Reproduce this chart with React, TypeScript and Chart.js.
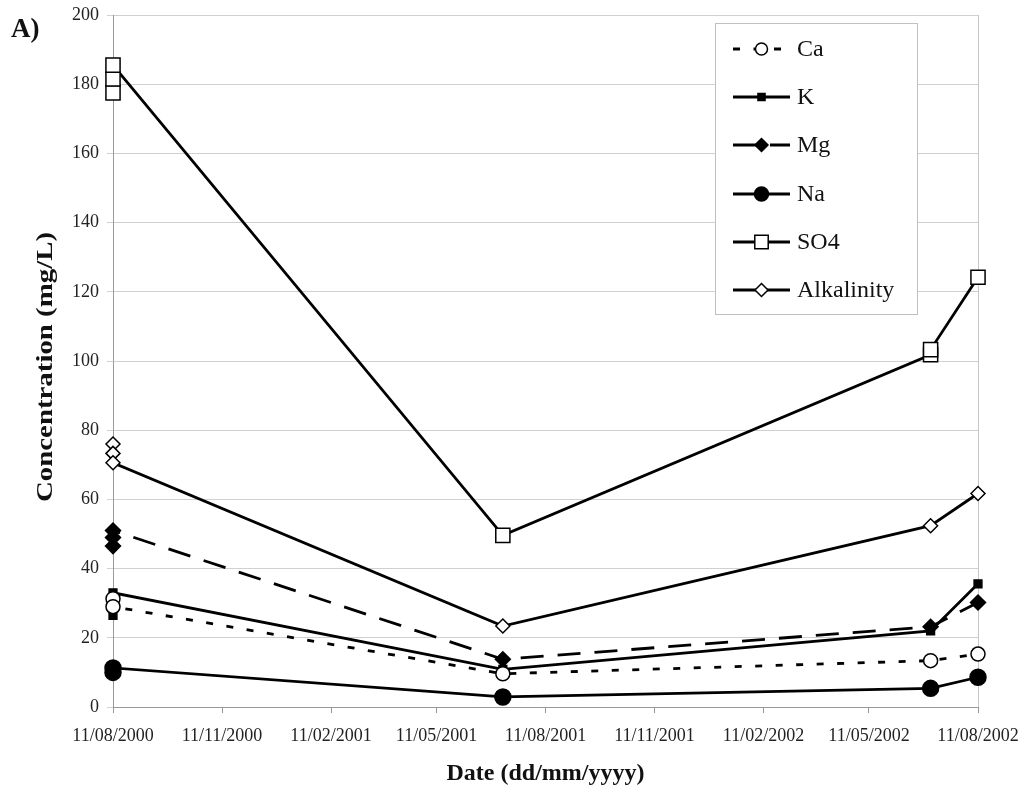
import React, { useEffect, useRef } from 'react';
import { Chart, registerables } from 'chart.js';

Chart.register(...registerables);

// ---- data (dates dd/mm/yyyy, concentrations mg/L) ----
const baseDate = '11/08/2000';
const tickDates = ['11/08/2000', '11/11/2000', '11/02/2001', '11/05/2001', '11/08/2001', '11/11/2001', '11/02/2002', '11/05/2002', '11/08/2002'];

const caDates = ['11/08/2000', '11/08/2000', '06/07/2001', '02/07/2002', '11/08/2002'];
const caValues = [31.3, 29, 9.6, 13.4, 15.3];

const kDates = ['11/08/2000', '11/08/2000', '11/08/2000', '06/07/2001', '02/07/2002', '11/08/2002'];
const kValues = [26.5, 30, 33, 10.9, 22, 35.6];

const mgDates = ['11/08/2000', '11/08/2000', '11/08/2000', '06/07/2001', '02/07/2002', '11/08/2002'];
const mgValues = [46.5, 49, 51, 13.8, 23.2, 30.2];

const naDates = ['11/08/2000', '11/08/2000', '06/07/2001', '02/07/2002', '11/08/2002'];
const naValues = [10, 11.3, 2.9, 5.4, 8.6];

const so4Dates = ['11/08/2000', '11/08/2000', '11/08/2000', '06/07/2001', '02/07/2002', '02/07/2002', '11/08/2002'];
const so4Values = [177.5, 181.5, 185.5, 49.6, 101.8, 103.3, 124.2];

const alkDates = ['11/08/2000', '11/08/2000', '11/08/2000', '06/07/2001', '02/07/2002', '11/08/2002'];
const alkValues = [76, 73.3, 70.6, 23.4, 52.4, 61.7];

const seriesNames = ['Ca', 'K', 'Mg', 'Na', 'SO4', 'Alkalinity'];
const yTitle = 'Concentration (mg/L)';
const xTitle = 'Date (dd/mm/yyyy)';
const panelLabel = 'A)';

// ---- helpers ----
function dayNumber(s: string): number {
  const [d, m, y] = s.split('/').map(Number);
  return Date.UTC(y, m - 1, d) / 86400000;
}
function daysSinceBase(s: string): number {
  return dayNumber(s) - dayNumber(baseDate);
}
function toPoints(dates: string[], values: number[]) {
  return dates.map((d, i) => ({ x: daysSinceBase(d), y: values[i] }));
}

const tickDays = tickDates.map(daysSinceBase);

type Style = {
  pointStyle: string;
  radius: number;
  fill: string;
  dash: number[];
};
const styles: Style[] = [
  { pointStyle: 'circle', radius: 7, fill: '#ffffff', dash: [7, 13.5] },
  { pointStyle: 'rect', radius: 5.5, fill: '#000000', dash: [] },
  { pointStyle: 'rectRot', radius: 7.5, fill: '#000000', dash: [23, 14] },
  { pointStyle: 'circle', radius: 8, fill: '#000000', dash: [] },
  { pointStyle: 'rect', radius: 10, fill: '#ffffff', dash: [] },
  { pointStyle: 'rectRot', radius: 7, fill: '#ffffff', dash: [] },
];

const legendMarker: number[] = [6, 5, 6.5, 7, 9.5, 6.5];

function drawMarker(ctx: CanvasRenderingContext2D, style: string, x: number, y: number, r: number, fill: string) {
  ctx.save();
  ctx.setLineDash([]);
  ctx.beginPath();
  if (style === 'circle') {
    ctx.arc(x, y, r, 0, Math.PI * 2);
  } else if (style === 'rect') {
    const s = r * Math.SQRT1_2;
    ctx.rect(x - s, y - s, 2 * s, 2 * s);
  } else {
    ctx.moveTo(x - r, y);
    ctx.lineTo(x, y - r);
    ctx.lineTo(x + r, y);
    ctx.lineTo(x, y + r);
    ctx.closePath();
  }
  ctx.fillStyle = fill;
  ctx.fill();
  ctx.lineWidth = 1.5;
  ctx.strokeStyle = '#000';
  ctx.stroke();
  ctx.restore();
}

const borderPlugin = {
  id: 'plotBorder',
  beforeDatasetsDraw(chart: any) {
    const ctx: CanvasRenderingContext2D = chart.ctx;
    const area = chart.chartArea;
    ctx.save();
    ctx.strokeStyle = '#c8c8c8';
    ctx.lineWidth = 1;
    ctx.beginPath();
    ctx.moveTo(Math.round(area.right) + 0.5, area.top);
    ctx.lineTo(Math.round(area.right) + 0.5, area.bottom);
    ctx.stroke();
    ctx.restore();
  },
};

const decorPlugin = {
  id: 'decor',
  afterDraw(chart: any) {
    const ctx: CanvasRenderingContext2D = chart.ctx;
    const area = chart.chartArea;
    ctx.save();

    // panel label
    ctx.fillStyle = '#111';
    ctx.font = 'bold 27px "Liberation Serif"';
    ctx.textBaseline = 'alphabetic';
    ctx.textAlign = 'left';
    ctx.fillText(panelLabel, 11, 37);

    // x title
    ctx.font = 'bold 24px "Liberation Serif"';
    ctx.textAlign = 'center';
    ctx.textBaseline = 'middle';
    ctx.fillText(xTitle, (area.left + area.right) / 2, 774);

    // y title (stretched along its length)
    ctx.save();
    ctx.translate(46, (area.top + area.bottom) / 2 + 6);
    ctx.rotate(-Math.PI / 2);
    const w = ctx.measureText(yTitle).width;
    ctx.scale(270 / w, 1);
    ctx.fillText(yTitle, 0, 0);
    ctx.restore();

    // legend
    const bx = 715, by = 23, bw = 202, bh = 291;
    ctx.fillStyle = '#ffffff';
    ctx.fillRect(bx, by, bw, bh);
    ctx.strokeStyle = '#c0c0c0';
    ctx.lineWidth = 1;
    ctx.strokeRect(bx + 0.5, by + 0.5, bw, bh);
    const rowY = [49, 97, 145, 194, 242, 290];
    seriesNames.forEach((name, i) => {
      const y = rowY[i];
      const st = styles[i];
      ctx.save();
      ctx.strokeStyle = '#000';
      ctx.lineWidth = 2.8;
      ctx.setLineDash(st.dash);
      ctx.beginPath();
      ctx.moveTo(733, y);
      ctx.lineTo(790, y);
      ctx.stroke();
      ctx.restore();
      drawMarker(ctx, st.pointStyle, 761.5, y, legendMarker[i], st.fill);
      ctx.fillStyle = '#111';
      ctx.font = '24px "Liberation Serif"';
      ctx.textAlign = 'left';
      ctx.textBaseline = 'middle';
      ctx.fillText(name, 797, y + 1);
    });
    ctx.restore();
  },
};

export default function App() {
  const canvasRef = useRef<HTMLCanvasElement | null>(null);

  useEffect(() => {
    const canvas = canvasRef.current;
    if (!canvas) return;
    const seriesData = [
      toPoints(caDates, caValues),
      toPoints(kDates, kValues),
      toPoints(mgDates, mgValues),
      toPoints(naDates, naValues),
      toPoints(so4Dates, so4Values),
      toPoints(alkDates, alkValues),
    ];
    const datasets = seriesNames.map((name, i) => ({
      label: name,
      data: seriesData[i],
      showLine: true,
      clip: false,
      borderColor: '#000',
      borderWidth: 2.8,
      borderDash: styles[i].dash,
      pointStyle: styles[i].pointStyle,
      pointRadius: styles[i].radius,
      pointBackgroundColor: styles[i].fill,
      pointBorderColor: '#000',
      pointBorderWidth: 1.5,
      tension: 0,
      fill: false,
    }));
    const tickFont = { family: '"Liberation Serif"', size: 18 };
    const chart = new Chart(canvas, {
      type: 'line',
      data: { datasets },
      options: {
        animation: false,
        responsive: false,
        devicePixelRatio: 1,
        layout: { padding: { left: 0, right: 44, top: 15, bottom: 0 } },
        plugins: { legend: { display: false }, tooltip: { enabled: false } },
        scales: {
          x: {
            type: 'linear',
            min: tickDays[0],
            max: tickDays[tickDays.length - 1],
            afterBuildTicks: (scale: any) => {
              scale.ticks = tickDays.map((v) => ({ value: v }));
            },
            afterFit: (scale: any) => {
              scale.height = 85;
              scale.paddingLeft = 0;
              scale.paddingRight = 0;
            },
            ticks: {
              autoSkip: false,
              maxRotation: 0,
              minRotation: 0,
              padding: 12,
              color: '#222',
              font: tickFont,
              callback: (_v: any, index: number) => tickDates[index],
            },
            grid: { drawOnChartArea: false, tickLength: 6, color: '#999' },
            border: { color: '#999' },
          },
          y: {
            min: 0,
            max: 200,
            afterFit: (scale: any) => {
              scale.width = 113;
              scale.paddingTop = 0;
              scale.paddingBottom = 0;
            },
            ticks: { stepSize: 20, padding: 8, color: '#222', font: tickFont },
            grid: { color: '#d0d0d0', tickLength: 6 },
            border: { color: '#999' },
          },
        },
      },
      plugins: [borderPlugin, decorPlugin],
    } as any);
    return () => chart.destroy();
  }, []);

  return (
    <div style={{ position: 'absolute', left: 0, top: 0, width: 1022, height: 792, background: '#fff' }}>
      <canvas ref={canvasRef} width={1022} height={792} style={{ display: 'block' }} />
    </div>
  );
}
